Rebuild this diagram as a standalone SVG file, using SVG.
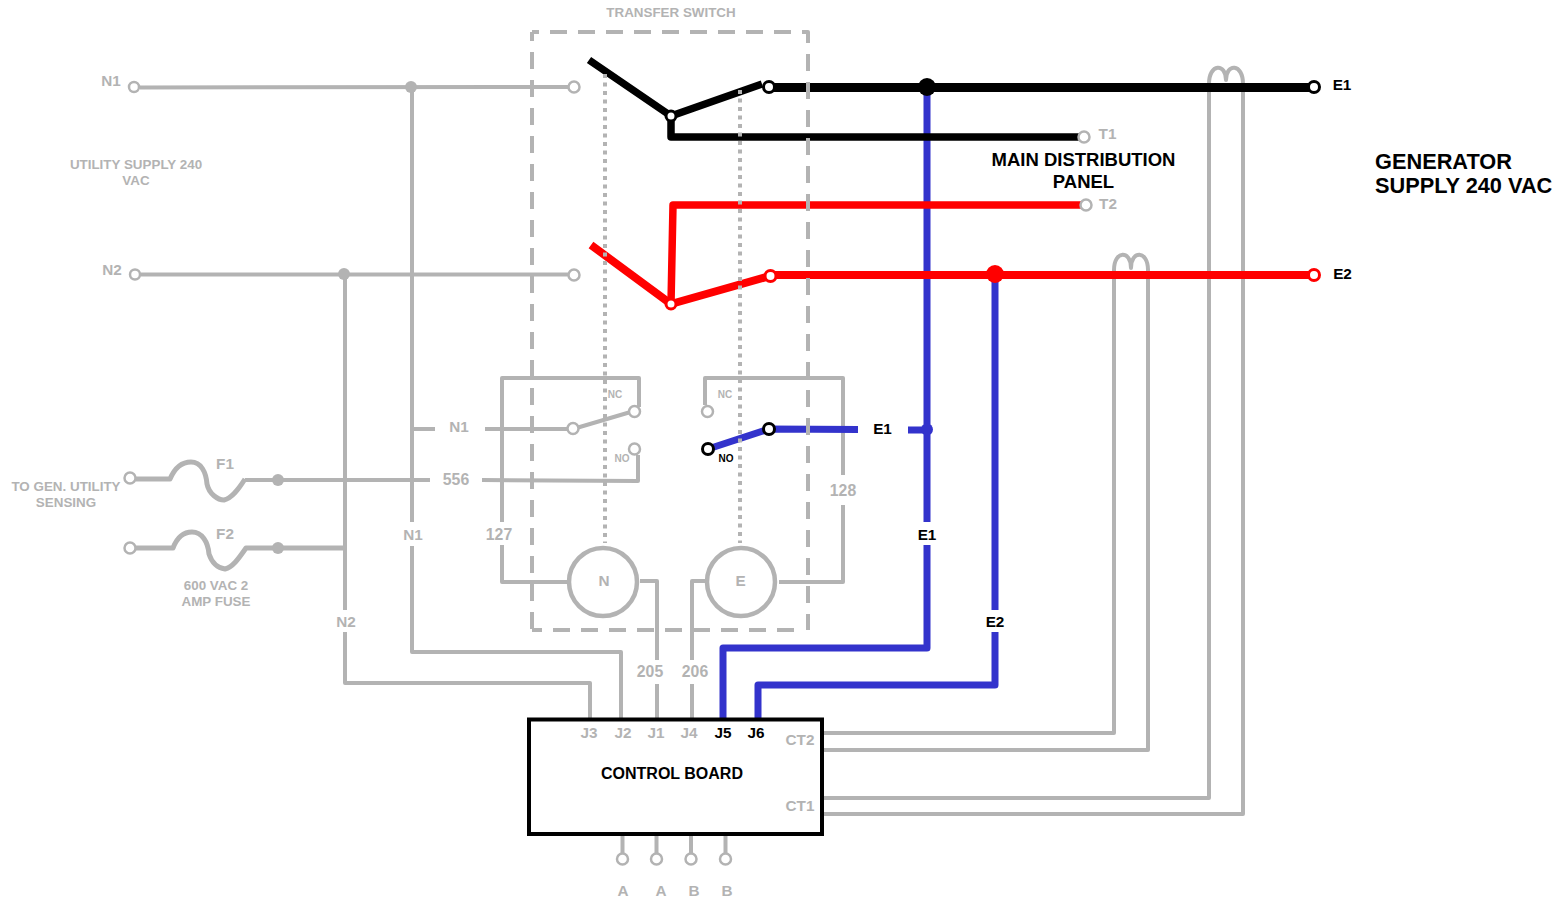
<svg xmlns="http://www.w3.org/2000/svg" width="1567" height="902" viewBox="0 0 1567 902">
<style>
text{font-family:"Liberation Sans",Arial,sans-serif;font-weight:700;text-anchor:middle}
.g{fill:#b3b3b3}.k{fill:#000}
.s13{font-size:13.400px}.s14{font-size:15.300px}.s15{font-size:15.800px}.s10{font-size:10px}.s18{font-size:18.500px}.s22{font-size:21.750px}.s16{font-size:16px}
path,line{fill:none;stroke-linejoin:round}
.w{stroke:#b3b3b3;stroke-width:4}
.wt{stroke:#b3b3b3;stroke-width:5}
.dash{stroke:#b3b3b3;stroke-width:4;stroke-dasharray:17 11}
.dot{stroke:#b3b3b3;stroke-width:4;stroke-dasharray:4 4.500}
.bk{stroke:#000}.rd{stroke:#f00}.bl{stroke:#3333cc}
.o{fill:#fff;stroke:#b3b3b3;stroke-width:2.500}
.ok{fill:#fff;stroke:#000;stroke-width:3}
.or{fill:#fff;stroke:#f00;stroke-width:3}
</style>
<g id="connectors">
<path class="w" d="M140 87.500L568 87M141 274.500L568 274.500"/>
<path class="w" d="M412 87V522M412 546V652H621V719"/>
<path class="w" d="M345 274V610M345 632V683H590V719"/>
<path class="w" d="M412 429H435M485 429H573L634 411"/>
<path class="w" d="M245 480H430M482 480L638 481V455"/>
<path class="wt" d="M136 479H170C176 465 184 462 191 462C201 462 206 472 207 484C209 494 218 500 224 500C232 498 238 490 245 479"/>
<path class="wt" d="M136 548H173C178 535 185 532 192 532C202 532 208 542 209 554C212 563 218 568 225 569C233 567 239 558 246 548H345"/>
<path class="w" d="M502 522V378H639V407"/>
<path class="w" d="M502 545V582H567"/>
<path class="w" d="M705 405V378H843V475M843 505V582H779"/>
<path class="w" d="M640 581H657V660M657 684V719"/>
<path class="w" d="M705 581H692V660M692 684V719"/>
<path class="w" d="M823 733H1114V270C1114 250 1131 250 1131 268C1131 250 1148 250 1148 270V750H823"/>
<path class="w" d="M823 798H1209V84C1209 63 1226 63 1226 80C1226 63 1243 63 1243 84V814H823"/>
<path class="bl" stroke-width="7" d="M927 87V522M927 545V648H723V719"/>
<path class="bl" stroke-width="7" d="M995 274V610M995 632V685H758V719"/>
<path class="bl" stroke-width="7" d="M708 449L769 429L858 429.500M908 430H927"/>
<path class="bk" stroke-width="7.500" d="M589 60L671 116L762 84"/>
<path class="bk" stroke-width="7.500" d="M671 116V137H1079"/>
<path class="bk" stroke-width="9" d="M769 87.500H1314"/>
<path class="rd" stroke-width="8" d="M591 245L671 304L770 276"/>
<path class="rd" stroke-width="7.500" d="M671 304L673 205H1082"/>
<path class="rd" stroke-width="8" d="M770 275H1314"/>
<path class="w" d="M622.500 836V853M656.500 836V853M691 836V853M725.500 836V853"/>
<path class="dash" stroke-dashoffset="10" d="M532 32H808V630"/>
<path class="dash" d="M794 630H532"/>
<path class="dash" stroke-dashoffset="-1" d="M532 630V32"/>
<path class="dot" d="M605 74V543M740 90V543"/>
</g>
<g id="junctions">
<circle cx="411" cy="87" r="6" class="g"/>
<circle cx="344" cy="274" r="6" class="g"/>
<circle cx="278" cy="480" r="6" class="g"/>
<circle cx="278" cy="548" r="6" class="g"/>
<circle cx="927" cy="87" r="9" class="k"/>
<circle cx="995" cy="274" r="9" fill="#f00"/>
<circle cx="927" cy="429.500" r="6" fill="#3333cc"/>
</g>
<g id="terminals">
<circle cx="134" cy="87" r="5" class="o"/>
<circle cx="135" cy="274.500" r="5" class="o"/>
<circle cx="574" cy="87" r="5.500" class="o"/>
<circle cx="574" cy="275" r="5.500" class="o"/>
<circle cx="130" cy="478" r="5.500" class="o"/>
<circle cx="130" cy="548" r="5.500" class="o"/>
<circle cx="573" cy="428.500" r="5.500" class="o"/>
<circle cx="634.500" cy="411.500" r="5.500" class="o"/>
<circle cx="634.500" cy="449" r="5.500" class="o"/>
<circle cx="707.500" cy="411.500" r="5.500" class="o"/>
<circle cx="1084" cy="137" r="5.500" class="o"/>
<circle cx="1086" cy="205" r="5.500" class="o"/>
<circle cx="622.500" cy="859" r="5.500" class="o"/>
<circle cx="656.500" cy="859" r="5.500" class="o"/>
<circle cx="691" cy="859" r="5.500" class="o"/>
<circle cx="725.500" cy="859" r="5.500" class="o"/>
<circle cx="671" cy="116" r="5" class="ok"/>
<circle cx="769" cy="87" r="5.500" class="ok"/>
<circle cx="1314" cy="87" r="5.500" class="ok"/>
<circle cx="708" cy="449" r="5.500" class="ok"/>
<circle cx="769" cy="429" r="5.500" class="ok"/>
<circle cx="671" cy="304" r="5" class="or"/>
<circle cx="770.500" cy="276" r="5.500" class="or"/>
<circle cx="1314" cy="275" r="5.500" class="or"/>
</g>
<g id="coil-n"><circle cx="603" cy="582" r="34" fill="none" stroke="#b3b3b3" stroke-width="4.500"/><text x="604" y="586" class="g s14">N</text></g>
<g id="coil-e"><circle cx="741" cy="582" r="34" fill="none" stroke="#b3b3b3" stroke-width="4.500"/><text x="740.500" y="586" class="g s14">E</text></g>
<g id="control-board">
<rect x="529" y="719.500" width="293" height="114.500" fill="none" stroke="#000" stroke-width="4"/>
<text x="672" y="779" class="k s16">CONTROL BOARD</text>
<text x="589" y="738" class="g s14">J3</text><text x="623" y="738" class="g s14">J2</text><text x="656" y="738" class="g s14">J1</text><text x="689" y="738" class="g s14">J4</text>
<text x="723" y="738" class="k s14">J5</text><text x="756" y="738" class="k s14">J6</text>
<text x="800" y="745" class="g s14">CT2</text><text x="800" y="811" class="g s14">CT1</text>
</g>
<g id="labels">
<text x="671" y="17" class="g s13">TRANSFER SWITCH</text>
<text x="111" y="86" class="g s14">N1</text>
<text x="112" y="275" class="g s14">N2</text>
<text x="136" y="169" class="g s13">UTILITY SUPPLY 240</text><text x="136" y="185" class="g s13">VAC</text>
<text x="66" y="491" class="g s13">TO GEN. UTILITY</text><text x="66" y="507" class="g s13">SENSING</text>
<text x="225" y="469" class="g s14">F1</text><text x="225" y="539" class="g s14">F2</text>
<text x="216" y="590" class="g s13">600 VAC 2</text><text x="216" y="606" class="g s13">AMP FUSE</text>
<text x="459" y="432" class="g s14">N1</text><text x="456" y="485" class="g s15">556</text>
<text x="413" y="539.500" class="g s14">N1</text><text x="346" y="626.500" class="g s14">N2</text>
<text x="499" y="539.500" class="g s15">127</text><text x="843" y="495.500" class="g s15">128</text>
<text x="650" y="676.500" class="g s15">205</text><text x="695" y="676.500" class="g s15">206</text>
<text x="615" y="398" class="g s10">NC</text><text x="725" y="398" class="g s10">NC</text><text x="622" y="462" class="g s10">NO</text><text x="726" y="462" class="k s10">NO</text>
<text x="882.500" y="434" class="k s14">E1</text><text x="927" y="539.500" class="k s14">E1</text><text x="995" y="626.500" class="k s14">E2</text>
<text x="1342" y="90" class="k s14">E1</text><text x="1342.500" y="278.500" class="k s14">E2</text>
<text x="1107.500" y="138.500" class="g s14">T1</text><text x="1108" y="208.500" class="g s14">T2</text>
<text x="1083.500" y="166" class="k s18">MAIN DISTRIBUTION</text><text x="1083.500" y="188" class="k s18">PANEL</text>
<text x="1375" y="169" class="k s22" style="text-anchor:start">GENERATOR</text><text x="1375" y="193" class="k s22" style="text-anchor:start">SUPPLY 240 VAC</text>
<text x="623" y="896" class="g s14">A</text><text x="661" y="896" class="g s14">A</text><text x="694" y="896" class="g s14">B</text><text x="727" y="896" class="g s14">B</text>
</g>
</svg>
